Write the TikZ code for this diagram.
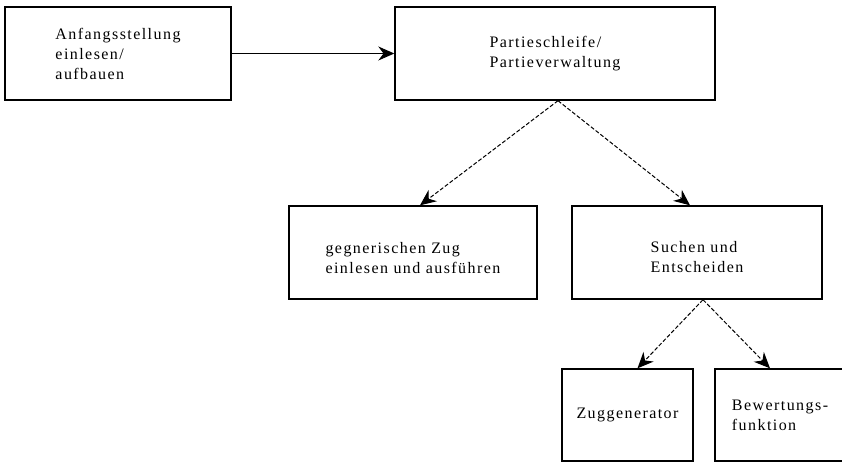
\documentclass[tikz,border=0pt]{standalone}
\usepackage{fontspec}
\setmainfont{Liberation Serif}[LetterSpace=9]
\usetikzlibrary{arrows.meta}
\begin{document}
\begin{tikzpicture}[x=1pt,y=-1pt,
  box/.style={draw=black, line width=1.4pt, rectangle, inner sep=0pt, align=left,
    font=\fontsize{16}{20}\selectfont},
  txt/.style={inner sep=0pt, align=left, font=\fontsize{16}{20}\selectfont},
  conn/.style={line width=1pt, -{Stealth[length=16pt,width=14pt]}},
  dconn/.style={conn, dash pattern=on 4pt off 2pt}]
\useasboundingbox (0,0) rectangle (842,462);
\fill[white] (0,0) rectangle (842,462);
\node[box, minimum width=226pt, minimum height=93pt] (a) at (118,53.5) {Anfangsstellung\\einlesen/\\aufbauen};
\node[box, minimum width=320pt, minimum height=93pt] (b) at (555,53.5) {Partieschleife/\\Partieverwaltung};
\node[box, minimum width=248pt, minimum height=93pt] (c) at (413,252.5) {};
\node[txt] (ct) at ([yshift=-6pt]c.center) {gegnerischen Zug\\einlesen und ausführen};
\node[box, minimum width=250pt, minimum height=93pt] (d) at (697,252.5) {};
\node[txt] (dt) at ([yshift=-5pt]d.center) {Suchen und\\Entscheiden};
\node[box, minimum width=131pt, minimum height=92pt] (e) at (627.5,415) {Zuggenerator};
\node[box, minimum width=130pt, minimum height=92pt] (f) at (780,415) {Bewertungs-\\funktion};
\draw[conn] (a.east) -- (b.west);
\draw[dconn] ([xshift=3pt]b.south) -- ([xshift=7pt]c.north);
\draw[dconn] ([xshift=3pt]b.south) -- ([xshift=-7pt]d.north);
\draw[dconn] ([xshift=6pt]d.south) -- ([xshift=10pt]e.north);
\draw[dconn] ([xshift=6pt]d.south) -- ([xshift=-10pt]f.north);
\end{tikzpicture}
\end{document}
